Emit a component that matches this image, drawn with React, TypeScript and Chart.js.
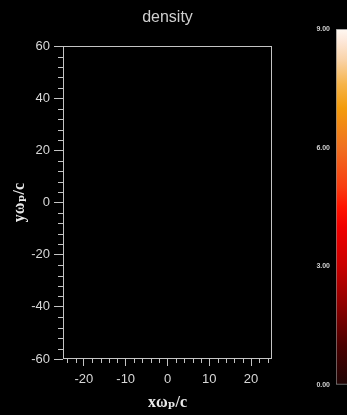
import React, { useEffect, useRef } from "react";
import { Chart, registerables } from "chart.js";

Chart.register(...registerables);

// ---- data ----
const chartTitle = "density";
const xAxisTitle = "xωₚ/c";
const yAxisTitle = "yωₚ/c";
const xRange = [-25, 25];
const yRange = [-60, 60];
const xMajorTicks = [-20, -10, 0, 10, 20];
const yMajorTicks = [-60, -40, -20, 0, 20, 40, 60];
const xMinorStep = 2;
const yMinorStep = 4;
const densityPoints: { x: number; y: number }[] = [];
const colorbarRange = [0, 9];
const colorbarTicks = [0, 3, 6, 9];
const colorbarStopValues = [0, 1, 2, 3, 4, 4.5, 5, 6, 7, 7.6, 8.2, 8.7, 9];
const colorbarStopColors = [
  "#1e0404",
  "#4a0000",
  "#8c0000",
  "#c80000",
  "#f00000",
  "#ff1400",
  "#f83c10",
  "#f07020",
  "#f39c0c",
  "#f6b44a",
  "#f9d2a6",
  "#fde8da",
  "#fff8f2",
];

// ---- styles ----
const SANS = "'Liberation Sans', Arial, Helvetica, sans-serif";
const SERIF = "'Liberation Serif', 'DejaVu Serif', 'Times New Roman', serif";
const LINE = "#c4c4c4";
const TXT = "#d8d8d8";

const frameAndMinorTicks = {
  id: "frameAndMinorTicks",
  afterDraw(chart: any) {
    const { ctx, chartArea, scales } = chart;
    const { left, right, top, bottom } = chartArea;
    ctx.save();
    ctx.strokeStyle = LINE;
    ctx.lineWidth = 1;
    ctx.strokeRect(Math.round(left) + 0.5, Math.round(top) + 0.5, Math.round(right - left) - 1, Math.round(bottom - top) - 1);
    ctx.beginPath();
    const xs = scales.x;
    for (let v = xRange[0] + 1; v < xRange[1]; v += xMinorStep) {
      if (xMajorTicks.includes(v)) continue;
      const px = Math.round(xs.getPixelForValue(v)) + 0.5;
      ctx.moveTo(px, Math.round(bottom));
      ctx.lineTo(px, Math.round(bottom) + 4);
    }
    const ys = scales.y;
    for (let v = yRange[0] + yMinorStep; v < yRange[1]; v += yMinorStep) {
      if (yMajorTicks.includes(v)) continue;
      const py = Math.round(ys.getPixelForValue(v)) + 0.5;
      ctx.moveTo(Math.round(left) - 5, py);
      ctx.lineTo(Math.round(left), py);
    }
    ctx.stroke();
    ctx.restore();
  },
};

export default function App() {
  const mainRef = useRef<HTMLCanvasElement>(null);
  const cbRef = useRef<HTMLCanvasElement>(null);

  useEffect(() => {
    const main = new Chart(mainRef.current as HTMLCanvasElement, {
      type: "scatter",
      data: {
        datasets: [
          { label: chartTitle, data: densityPoints, pointRadius: 0, showLine: false },
        ],
      },
      options: {
        animation: false,
        responsive: false,
        devicePixelRatio: 1,
        layout: { padding: { left: 0, right: 75, top: 0, bottom: 0 } },
        plugins: {
          legend: { display: false },
          tooltip: { enabled: false },
          title: {
            display: true,
            text: chartTitle,
            color: "#cfcfcf",
            font: { family: SANS, size: 16, weight: "normal" },
            padding: { top: 8, bottom: 19 },
            fullSize: false,
          },
        },
        scales: {
          x: {
            type: "linear",
            min: xRange[0],
            max: xRange[1],
            afterBuildTicks: (s: any) => {
              s.ticks = xMajorTicks.map((v) => ({ value: v }));
            },
            afterFit: (s: any) => {
              s.height = 56;
            },
            grid: { drawOnChartArea: false, drawTicks: true, tickLength: 7, tickColor: LINE, tickWidth: 1, color: LINE },
            border: { display: false },
            ticks: { color: TXT, font: { family: SANS, size: 13 }, padding: 6, maxRotation: 0, autoSkip: false },
            title: {
              display: true,
              text: xAxisTitle,
              color: "#e8e8e8",
              font: { family: SERIF, size: 16, weight: "bold" },
              padding: { top: 0, bottom: 3 },
            },
          },
          y: {
            type: "linear",
            min: yRange[0],
            max: yRange[1],
            afterBuildTicks: (s: any) => {
              s.ticks = yMajorTicks.map((v) => ({ value: v }));
            },
            afterFit: (s: any) => {
              s.width = 63;
            },
            grid: { drawOnChartArea: false, drawTicks: true, tickLength: 9, tickColor: LINE, tickWidth: 1, color: LINE },
            border: { display: false },
            ticks: { color: TXT, font: { family: SANS, size: 13 }, padding: 4, autoSkip: false },
            title: {
              display: true,
              text: yAxisTitle,
              color: "#e8e8e8",
              font: { family: SERIF, size: 16, weight: "bold" },
              padding: { top: 10, bottom: 0 },
            },
          },
        },
      } as any,
      plugins: [frameAndMinorTicks],
    });

    const cb = new Chart(cbRef.current as HTMLCanvasElement, {
      type: "bar",
      data: {
        labels: [chartTitle],
        datasets: [
          {
            data: [colorbarRange[1]],
            backgroundColor: (c: any) => {
              const area = c.chart.chartArea;
              if (!area) return colorbarStopColors[colorbarStopColors.length - 1];
              const g = c.chart.ctx.createLinearGradient(0, area.bottom, 0, area.top);
              colorbarStopValues.forEach((v, i) => {
                g.addColorStop((v - colorbarRange[0]) / (colorbarRange[1] - colorbarRange[0]), colorbarStopColors[i]);
              });
              return g;
            },
            borderColor: "#8a8a8a",
            borderWidth: 1,
            borderSkipped: false,
            barPercentage: 1,
            categoryPercentage: 1,
          },
        ],
      },
      options: {
        animation: false,
        responsive: false,
        devicePixelRatio: 1,
        layout: { padding: { left: 0, right: 0, top: 29, bottom: 30 } },
        plugins: { legend: { display: false }, tooltip: { enabled: false }, title: { display: false } },
        scales: {
          x: { display: false },
          y: {
            min: colorbarRange[0],
            max: colorbarRange[1],
            z: 1,
            afterBuildTicks: (s: any) => {
              s.ticks = colorbarTicks.map((v) => ({ value: v }));
            },
            afterFit: (s: any) => {
              s.width = 46;
            },
            grid: {
              drawTicks: false,
              drawOnChartArea: true,
              color: (c: any) =>
                c.tick && c.tick.value > colorbarRange[0] && c.tick.value < colorbarRange[1]
                  ? "rgba(255,225,205,0.6)"
                  : "rgba(0,0,0,0)",
            },
            border: { display: false },
            ticks: {
              color: "#d0d0d0",
              font: { family: SANS, size: 7, weight: "bold" },
              padding: 6,
              callback: (v: any) => Number(v).toFixed(2),
            },
          },
        },
      } as any,
    });

    return () => {
      main.destroy();
      cb.destroy();
    };
  }, []);

  return (
    <div
      style={{
        position: "fixed",
        left: 0,
        top: 0,
        width: 347,
        height: 415,
        overflow: "hidden",
        background: "#000",
      }}
    >
      <canvas ref={mainRef} width={347} height={415} style={{ position: "absolute", left: 0, top: 0 }} />
      <canvas ref={cbRef} width={70} height={415} style={{ position: "absolute", left: 290, top: 0 }} />
    </div>
  );
}
